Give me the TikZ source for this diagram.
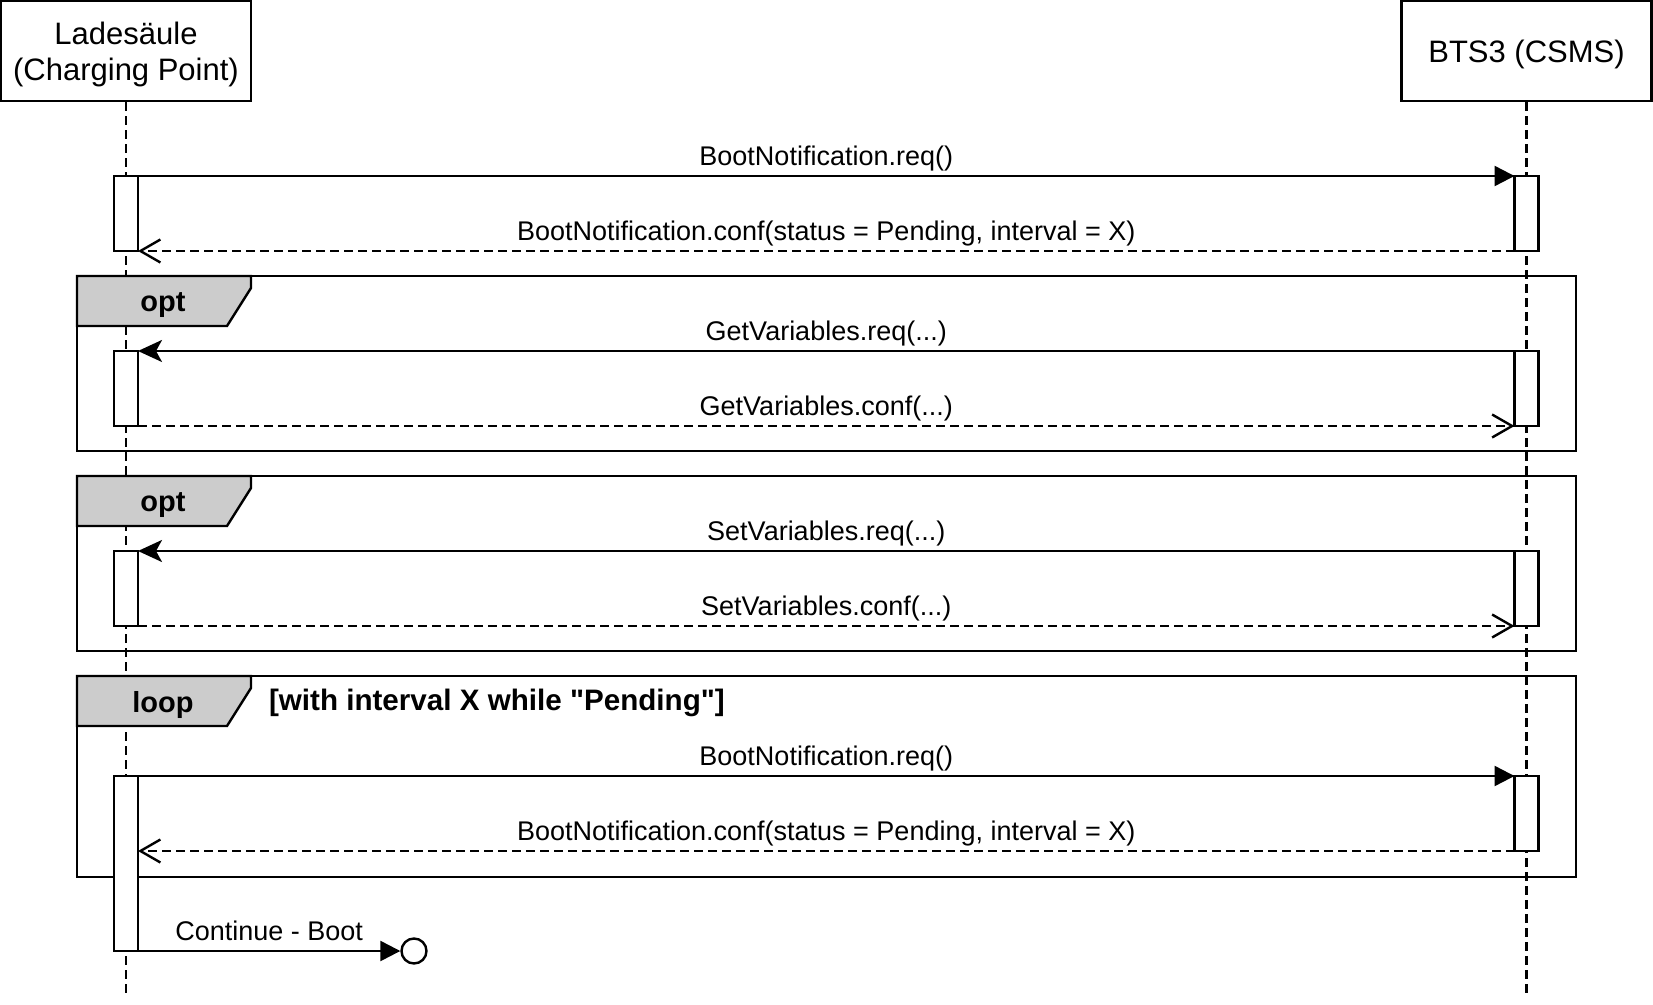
\documentclass[tikz,border=0pt]{standalone}
\usepackage{fontspec}
\newfontfamily\arial{Liberation Sans}
\usepackage{tikz}
\usetikzlibrary{positioning}
\usetikzlibrary{arrows.meta,shapes.geometric}
\tikzstyle{actor} = [rectangle, draw=black, line width=1.2pt, fill=white, minimum width=125pt, minimum height=50pt]
\tikzstyle{actortext} = [align=center, font=\arial\fontsize{15.5}{18}\selectfont]
\tikzstyle{lifeline} = [line width=1.2pt, dash pattern=on 4.5pt off 2.5pt]
\tikzstyle{activation} = [rectangle, draw=black, line width=1.2pt, fill=white, minimum width=12pt, inner sep=0pt, outer sep=0pt, anchor=north]
\tikzstyle{frame} = [rectangle, draw=black, line width=1.2pt, minimum width=749.5pt, inner sep=0pt, outer sep=0pt, anchor=north west]
\tikzstyle{tab} = [draw=black, line width=1.2pt, fill=black!20]
\tikzstyle{tag} = [font=\arial\fontsize{14.5}{17}\selectfont\bfseries]
\tikzstyle{msg} = [line width=1.2pt, -{Triangle[length=10pt,width=10pt]}]
\tikzstyle{call} = [line width=1.2pt, -{Stealth[length=12pt,width=11pt,inset=3pt]}]
\tikzstyle{reply} = [line width=1.2pt, dash pattern=on 4.5pt off 2.5pt, -{Straight Barb[length=10pt,width=11.5pt]}]
\tikzstyle{lbl} = [midway, yshift=8.9pt, text height=9.9pt, text depth=2.9pt, font=\arial\fontsize{13.5}{16}\selectfont]
\begin{document}
\begin{tikzpicture}[x=0.5pt, y=-0.5pt]
			\useasboundingbox (0,0) rectangle (1653,1005);
			\node (cp) [actor] at (126,51) {};
			\node (csms) [actor] at (1526.5,51) {};
			\node (cpName) [actortext] at ([yshift=-1.5pt]cp.center) {Ladesäule\\(Charging Point)};
			\node (csmsName) [actortext] at ([yshift=-1.5pt]csms.center) {BTS3 (CSMS)};
			\coordinate (cpEnd) at (126,993);
			\coordinate (csmsEnd) at (1526.5,993);
			\draw [lifeline] (cp)--(cpEnd);
			\draw [lifeline] (csms)--(csmsEnd);
			% frames
			\node (optGet) [frame, minimum height=87.5pt] at (77,276) {};
			\node (optSet) [frame, minimum height=87.5pt] at (77,476) {};
			\node (loopBoot) [frame, minimum height=100.5pt] at (77,676) {};
			\foreach \name/\kind in {optGet/opt, optSet/opt, loopBoot/loop} {
				\draw [tab] (\name.north west)--++(174,0)--++(0,12)--++(-24,38)--++(-150,0)--cycle;
				\node [tag] at ([shift={(86,29)}]\name.north west) {\kind};
			}
			\node (cond) [tag, anchor=west, font=\arial\fontsize{14.8}{17}\selectfont\bfseries] at (262,703) {[with interval X while "Pending"]};
			% activations
			\node (cpBoot) [activation, minimum height=37.5pt] at (126,176) {};
			\node (csBoot) [activation, minimum height=37.5pt] at (1526.5,176) {};
			\node (cpGet) [activation, minimum height=37.5pt] at (126,351) {};
			\node (csGet) [activation, minimum height=37.5pt] at (1526.5,351) {};
			\node (cpSet) [activation, minimum height=37.5pt] at (126,551) {};
			\node (csSet) [activation, minimum height=37.5pt] at (1526.5,551) {};
			\node (cpLoop) [activation, minimum height=87.5pt] at (126,776) {};
			\node (csLoop) [activation, minimum height=37.5pt] at (1526.5,776) {};
			\node (done) [circle, draw=black, line width=1.2pt, fill=white, minimum size=12.5pt, inner sep=0pt] at (414,951) {};
			% messages
			\draw [msg] (cpBoot.north east)--node[lbl]{BootNotification.req()}(csBoot.north west);
			\draw [reply] (csBoot.south west)--node[lbl]{BootNotification.conf(status = Pending, interval = X)}(cpBoot.south east);
			\draw [call] (csGet.north west)--node[lbl]{GetVariables.req(...)}(cpGet.north east);
			\draw [reply] (cpGet.south east)--node[lbl]{GetVariables.conf(...)}(csGet.south west);
			\draw [call] (csSet.north west)--node[lbl]{SetVariables.req(...)}(cpSet.north east);
			\draw [reply] (cpSet.south east)--node[lbl]{SetVariables.conf(...)}(csSet.south west);
			\draw [msg] (cpLoop.north east)--node[lbl]{BootNotification.req()}(csLoop.north west);
			\draw [reply] (csLoop.south west)--node[lbl]{BootNotification.conf(status = Pending, interval = X)}(cpLoop.east |- csLoop.south);
			\draw [msg] (cpLoop.south east)--node[lbl]{Continue - Boot}(done);
		\end{tikzpicture}
\end{document}
